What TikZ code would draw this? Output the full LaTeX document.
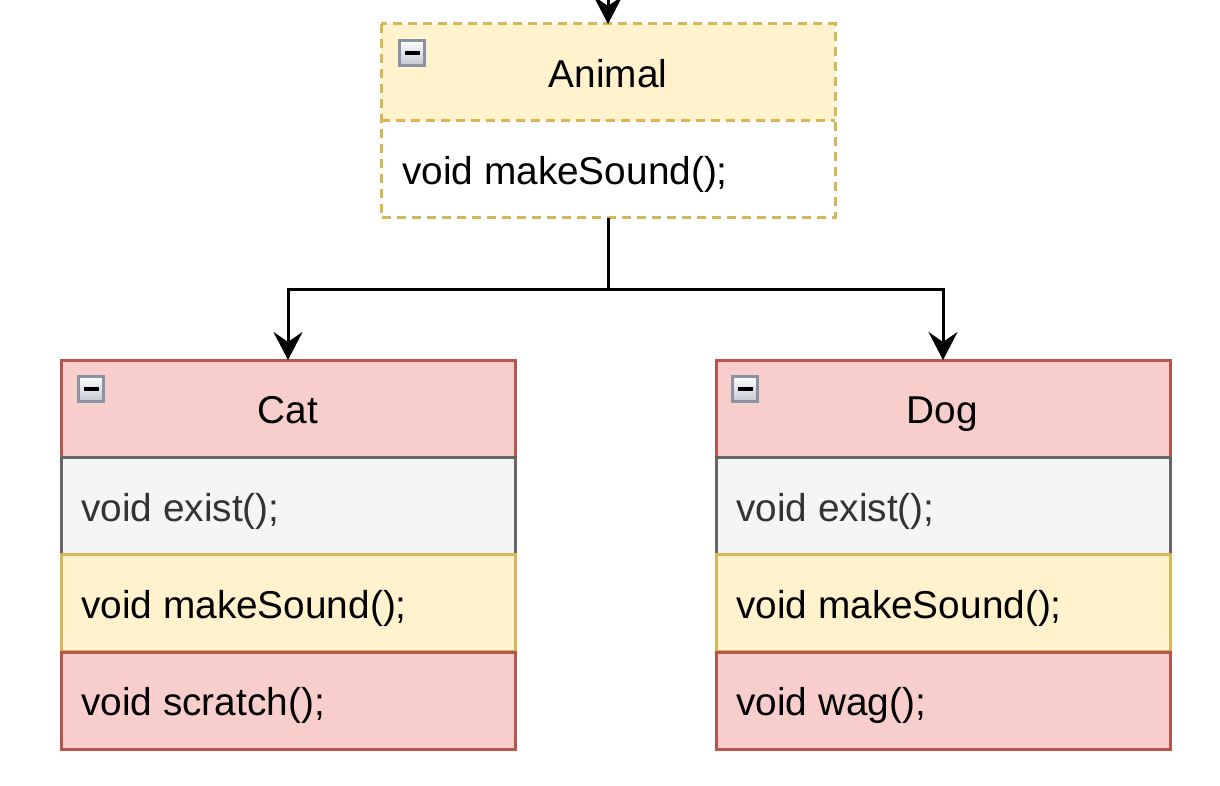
\documentclass[tikz,border=0pt]{standalone}
\usepackage{fontspec}
\setmainfont{Liberation Sans}
\usetikzlibrary{arrows.meta}
\definecolor{ylfill}{HTML}{FFF2CC}
\definecolor{yldraw}{HTML}{D6B656}
\definecolor{rdfill}{HTML}{F8CECC}
\definecolor{rddraw}{HTML}{B85450}
\definecolor{gyfill}{HTML}{F5F5F5}
\definecolor{gydraw}{HTML}{666666}
\definecolor{gytext}{HTML}{333333}
\definecolor{icondraw}{HTML}{8A93A3}
\definecolor{iconbot}{HTML}{C3C8D1}
\tikzset{
  box/.style={rectangle, minimum width=454pt, minimum height=97pt, anchor=north west, inner sep=0pt, outer sep=0pt, line width=3pt},
  redbox/.style={box, fill=rdfill, draw=rddraw},
  greybox/.style={box, fill=gyfill, draw=gydraw},
  yellowbox/.style={box, fill=ylfill, draw=yldraw},
  lbl/.style={font=\fontsize{38.8}{46}\selectfont, inner sep=0pt, anchor=base west},
  ttl/.style={font=\fontsize{38.8}{46}\selectfont, inner sep=0pt, anchor=base},
  dashedge/.style={draw=yldraw, line width=3pt, dash pattern=on 9pt off 6pt},
  conn/.style={line width=3pt, -{Stealth[length=28pt,width=29pt,inset=10pt]}},
  icon/.style={rectangle, draw=icondraw, line width=3pt, top color=white, bottom color=iconbot, minimum size=25pt, inner sep=0pt, outer sep=0pt, anchor=north west},
  minusbar/.style={line width=3.5pt, black},
}
\begin{document}
\begin{tikzpicture}[x=1pt,y=-1pt]
\useasboundingbox (0,0) rectangle (1220,786);
% Animal
\node[box, fill=ylfill] (aH) at (381,24) {};
\node[box, fill=white] (aB) at (381,121) {};
\draw[dashedge] (aH.north west) rectangle (aB.south east);
\draw[dashedge] (aH.south west) -- (aH.south east);
\node[ttl] (aT) at (608,87.5) {Animal};
\node[lbl] (aM) at (402,184.5) {void makeSound();};
\node[icon] (aI) at (399.5,40.5) {};
\draw[minusbar] ([xshift=5pt]aI.west) -- ([xshift=-5pt]aI.east);
% Cat
\node[redbox] (cH) at (61,360) {};
\node[greybox] (cE) at (61,457) {};
\node[yellowbox] (cS) at (61,554) {};
\node[redbox] (cX) at (61,652) {};
\node[ttl] (cT) at (288,423.5) {Cat};
\node[lbl, text=gytext] (cEt) at (81,521) {void exist();};
\node[lbl] (cSt) at (81,618) {void makeSound();};
\node[lbl] (cXt) at (81,715.5) {void scratch();};
\node[icon] (cI) at (78.5,376.5) {};
\draw[minusbar] ([xshift=5pt]cI.west) -- ([xshift=-5pt]cI.east);
% Dog
\node[redbox] (dH) at (716,360) {};
\node[greybox] (dE) at (716,457) {};
\node[yellowbox] (dS) at (716,554) {};
\node[redbox] (dX) at (716,652) {};
\node[ttl] (dT) at (942.5,423.5) {Dog};
\node[lbl, text=gytext] (dEt) at (736,521) {void exist();};
\node[lbl] (dSt) at (736,618) {void makeSound();};
\node[lbl] (dXt) at (736,715.5) {void wag();};
\node[icon] (dI) at (732.5,376.5) {};
\draw[minusbar] ([xshift=5pt]dI.west) -- ([xshift=-5pt]dI.east);
% connectors
\coordinate (topin) at (608,-20);
\coordinate (split) at (608,289);
\draw[conn] (topin) -- (aH.north);
\draw[conn] (aB.south) -- (split) -| (cH.north);
\draw[conn] (split) -| (dH.north);
\end{tikzpicture}
\end{document}
